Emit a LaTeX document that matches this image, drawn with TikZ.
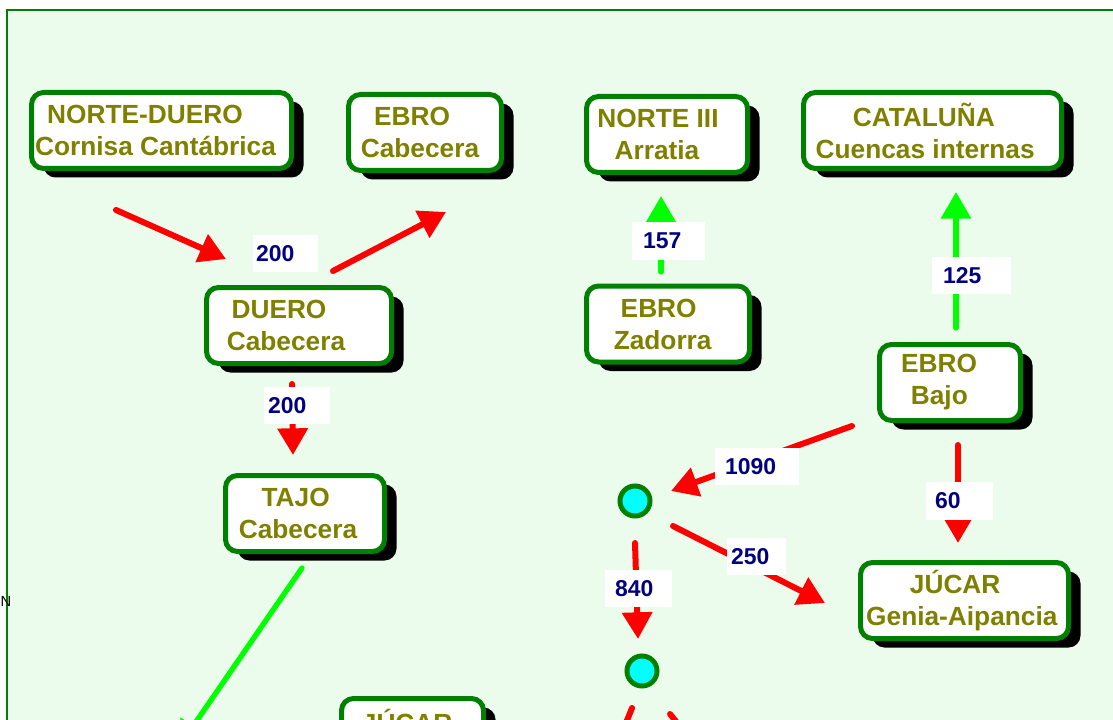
\documentclass[tikz,border=0pt]{standalone}
\usepackage{fontspec}
\setmainfont{Liberation Sans}
\usepackage{tikz}
\usetikzlibrary{arrows.meta,shadows}
\definecolor{greenx}{HTML}{008000}
\definecolor{olivex}{HTML}{808000}
\definecolor{navyx}{HTML}{000080}
\definecolor{redx}{HTML}{FF0000}
\definecolor{limex}{HTML}{00FF00}
\definecolor{cyanx}{HTML}{00FFFF}
\definecolor{bgx}{HTML}{ECFCEC}
\tikzset{
  box/.style={draw=greenx,line width=3.75pt,rounded corners=9pt,fill=white,text=olivex,
    align=center,inner sep=1pt,minimum height=57pt,
    font=\fontsize{19.7pt}{24pt}\selectfont\bfseries,
    drop shadow={shadow xshift=9pt,shadow yshift=-6.75pt,fill=black,opacity=1}},
  num/.style 2 args={fill=white,text=navyx,inner ysep=0pt,inner xsep=#2,text width=#1,
    align=left,minimum height=28pt,font=\fontsize{17.2pt}{20pt}\selectfont\bfseries},
  rar/.style={-{Triangle[length=20pt,width=22pt]},line width=4.5pt,redx,line cap=round},
  gar/.style={-{Triangle[length=20pt,width=22pt]},line width=4pt,limex,line cap=round},
  junc/.style={circle,draw=greenx,line width=3.75pt,fill=cyanx,minimum size=22.5pt,inner sep=0pt}
}
\begin{document}
\begin{tikzpicture}[x=0.75pt,y=-0.75pt]
\useasboundingbox (0,0) rectangle (1113,720);
\fill[white] (0,0) rectangle (1113,720);
\draw[greenx,line width=1.5pt,fill=bgx] (7,10) rectangle (1140,760);
\node[anchor=base west,font=\fontsize{11pt}{13pt}\selectfont] (nlbl) at (-4,606) {N};

\node[box,minimum width=195pt] (nd) at (161.5,130.5) {NORTE-DUERO\hspace*{24.75pt}\\Cornisa Cantábrica\hspace*{9pt}};
\node[box,minimum width=114.75pt] (ec) at (425,132.5) {EBRO\hspace*{19.5pt}\\Cabecera\hspace*{7.5pt}};
\node[box,minimum width=138.75pt] (dc) at (299,325.5) {DUERO\hspace*{30pt}\\Cabecera\hspace*{19.5pt}};
\node[box,minimum width=120.75pt] (n3) at (667,134.5) {NORTE III\hspace*{13.5pt}\\Arratia\hspace*{15pt}};
\node[box,minimum width=122.25pt] (ez) at (668,324) {EBRO\hspace*{14pt}\\Zadorra\hspace*{8pt}};
\node[box,minimum width=193.5pt] (ca) at (932.5,130.5) {CATALUÑA\hspace*{13pt}\\Cuencas internas\hspace*{11pt}};
\node[box,minimum width=105.75pt] (eb) at (950,382.5) {EBRO\hspace*{16.5pt}\\Bajo\hspace*{16pt}};
\node[box,minimum width=156pt] (jg) at (964.5,600.5) {JÚCAR\hspace*{14pt}\\Genia-Aipancia\hspace*{4pt}};
\node[box,minimum width=119.25pt] (tc) at (305,513.5) {TAJO\hspace*{14pt}\\Cabecera\hspace*{10.5pt}};
\node[box,minimum width=106.5pt] (jx) at (412.5,736.5) {JÚCAR\hspace*{8pt}\\\mbox{}};

\node[junc] (j1) at (635,501) {};
\node[junc] (j2) at (642,671) {};

\coordinate (a1s) at (116,210); \coordinate (a1e) at (226,259);
\coordinate (a2s) at (333,271); \coordinate (a2e) at (446,212);
\coordinate (a3s) at (292,384); \coordinate (a3e) at (293,455);
\coordinate (a4s) at (302,568); \coordinate (a4e) at (178,748);
\coordinate (a5s) at (661,272); \coordinate (a5e) at (661,196);
\coordinate (a6s) at (956,328); \coordinate (a6e) at (956,192);
\coordinate (a7s) at (852,426); \coordinate (a7e) at (671,491);
\coordinate (a8s) at (958,445); \coordinate (a8e) at (958,543);
\coordinate (a9s) at (673,526); \coordinate (a9e) at (825,603);
\coordinate (a10s) at (635,543); \coordinate (a10e) at (638,639);
\coordinate (a11s) at (632,708); \coordinate (a11e) at (605,775);
\coordinate (a12s) at (670,714); \coordinate (a12e) at (715,770);

\draw[rar] (a1s) -- (a1e);
\draw[rar] (a2s) -- (a2e);
\draw[rar] (a3s) -- (a3e);
\draw[gar] (a4s) -- (a4e);
\draw[gar] (a5s) -- (a5e);
\draw[gar] (a6s) -- (a6e);
\draw[rar] (a7s) -- (a7e);
\draw[rar] (a8s) -- (a8e);
\draw[rar] (a9s) -- (a9e);
\draw[rar] (a10s) -- (a10e);
\draw[rar] (a11s) -- (a11e);
\draw[rar] (a12s) -- (a12e);

\node[num={44.25pt}{2.25pt}] (v200a) at (285.5,253.5) {200};
\node[num={43.5pt}{3pt}] (v200b) at (297,405.5) {200};
\node[num={38.25pt}{8.25pt}] (v157) at (668.5,241) {157};
\node[num={42.75pt}{8.25pt}] (v125) at (971.5,275.5) {125};
\node[num={48pt}{7.5pt}] (v1090) at (757,466.5) {1090};
\node[num={36.75pt}{6.75pt}] (v60) at (959.5,501) {60};
\node[num={38.25pt}{3pt}] (v250) at (756.5,556.5) {250};
\node[num={35.25pt}{7.5pt}] (v840) at (638.5,588.5) {840};
\end{tikzpicture}
\end{document}
